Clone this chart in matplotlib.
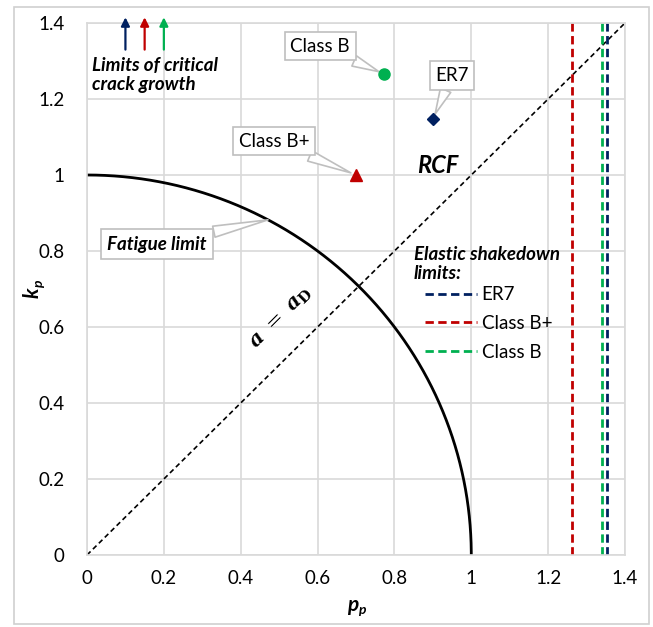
import numpy as np
import matplotlib
matplotlib.use("Agg")
import matplotlib.pyplot as plt
from matplotlib.patches import Rectangle
from matplotlib.lines import Line2D

plt.rcParams['font.family'] = ['Lato', 'DejaVu Sans']
plt.rcParams['mathtext.fontset'] = 'dejavuserif'

# Data
x_ticks = [0, 0.2, 0.4, 0.6, 0.8, 1, 1.2, 1.4]
y_ticks = [0, 0.2, 0.4, 0.6, 0.8, 1, 1.2, 1.4]
tick_labels = ["0", "0.2", "0.4", "0.6", "0.8", "1", "1.2", "1.4"]

materials = ["ER7", "Class B+", "Class B"]
colors = {"ER7": "#002060", "Class B+": "#c00000", "Class B": "#00b050"}
markers = {"ER7": "D", "Class B+": "^", "Class B": "o"}
marker_sizes = {"ER7": 6, "Class B+": 8, "Class B": 8}
point_pp = {"ER7": 0.90, "Class B+": 0.70, "Class B": 0.773}
point_kp = {"ER7": 1.147, "Class B+": 1.0, "Class B": 1.266}
shakedown_pp = {"ER7": 1.352, "Class B+": 1.261, "Class B": 1.340}
crack_arrow_x = {"ER7": 0.10, "Class B+": 0.15, "Class B": 0.20}
label_pos = {"ER7": (0.95, 1.262), "Class B+": (0.487, 1.089), "Class B": (0.607, 1.339)}

theta = np.linspace(0, np.pi / 2, 200)
fatigue_x = np.sin(theta)
fatigue_y = np.cos(theta)

FS = 13.5

fig = plt.figure(figsize=(6.53, 6.27), dpi=100)
ax = fig.add_axes([87 / 653, 1 - 555 / 627, (625 - 87) / 653, (555 - 23) / 627])

# Outer border
fig.patches.append(Rectangle((14 / 653, 1 - 624 / 627), (649 - 14) / 653, (624 - 7) / 627,
                             transform=fig.transFigure, fill=False, ec="#d0d0d0", lw=1.2))

ax.set_xlim(0, 1.4)
ax.set_ylim(0, 1.4)
ax.set_xticks(x_ticks)
ax.set_xticklabels(tick_labels)
ax.set_yticks(y_ticks)
ax.set_yticklabels(tick_labels)
ax.tick_params(length=0, labelsize=FS, pad=11, colors="#000000")
ax.tick_params(axis='y', pad=16)
ax.grid(True, color="#d9d9d9", lw=1.2)
ax.set_axisbelow(True)
for s in ax.spines.values():
    s.set_color("#d9d9d9")
    s.set_linewidth(1.2)

# Axis labels (k_p, p_p with subscripts)
fig.text(353 / 653, 1 - 605 / 627, "p", fontsize=15, fontweight='bold', style='italic', ha='center', va='center')
fig.text(362 / 653, 1 - 610 / 627, "p", fontsize=10, fontweight='bold', style='italic', ha='center', va='center')
fig.text(33 / 653, 1 - 293 / 627, "k", fontsize=15, fontweight='bold', style='italic', ha='center', va='center', rotation=90)
fig.text(39 / 653, 1 - 284 / 627, "p", fontsize=10, fontweight='bold', style='italic', ha='center', va='center', rotation=90)

# Diagonal a = a_D
ax.plot([0, 1.4], [0, 1.4], color="black", lw=1.2, ls=(0, (3, 2)))
ax.text(0.505, 0.625, r"$\boldsymbol{a}\ =\ \boldsymbol{a}_{\mathbf{D}}$", rotation=45, fontsize=15,
        ha='center', va='center', rotation_mode='anchor')

# Fatigue limit curve
ax.plot(fatigue_x, fatigue_y, color="black", lw=2)

# Shakedown limits
handles = []
for m in materials:
    ax.axvline(shakedown_pp[m], color=colors[m], lw=2, ls=(0, (3, 1.6)))
    handles.append(Line2D([], [], color=colors[m], lw=2, ls=(0, (3, 1.6))))

# Points
for m in materials:
    ax.plot(point_pp[m], point_kp[m], marker=markers[m], color=colors[m], ms=marker_sizes[m], ls='none',
            zorder=5)
    ax.annotate(m, xy=(point_pp[m], point_kp[m]), xytext=label_pos[m], fontsize=FS,
                ha='center', va='center',
                bbox=dict(boxstyle='square,pad=0.3', fc='white', ec='#bfbfbf', lw=1.2),
                arrowprops=dict(arrowstyle='wedge,tail_width=0.6,shrink_factor=0.5', fc='white', ec='#bfbfbf',
                                lw=1.2, shrinkA=0, shrinkB=4),
                zorder=4)

# Fatigue limit callout
ax.annotate("Fatigue limit", xy=(0.471, 0.882), xytext=(0.182, 0.818), fontsize=FS,
            fontweight='bold', style='italic', ha='center', va='center',
            bbox=dict(boxstyle='square,pad=0.35', fc='white', ec='#bfbfbf', lw=1.2),
            arrowprops=dict(arrowstyle='wedge,tail_width=0.6,shrink_factor=0.5', fc='white', ec='#bfbfbf',
                            lw=1.2, shrinkA=0, shrinkB=0),
            zorder=4)

# RCF
ax.text(0.913, 1.025, "RCF", fontsize=17, fontweight='bold', style='italic', ha='center', va='center')

# Critical crack growth arrows
for m in materials:
    ax.annotate("", xy=(crack_arrow_x[m], 1.415), xytext=(crack_arrow_x[m], 1.33),
                arrowprops=dict(arrowstyle='-|>,head_length=0.5,head_width=0.25', color=colors[m], lw=1.6,
                                shrinkA=0, shrinkB=0), annotation_clip=False)
ax.text(0.012, 1.262, "Limits of critical\ncrack growth", fontsize=FS, fontweight='bold', style='italic',
        ha='left', va='center', linespacing=1.15)

# Legend: title as text, entries indented
ax.text(0.850, 0.765, "Elastic shakedown\nlimits:", fontsize=FS, fontweight='bold', style='italic',
        ha='left', va='center', linespacing=1.15)
leg = ax.legend(handles, materials, loc='upper left', bbox_to_anchor=((428 - 87) / 538 - 0.005, 0.505),
                frameon=False, fontsize=FS, handlelength=2.75, handletextpad=0.25,
                labelspacing=0.62, borderaxespad=0, borderpad=0)
leg.set_zorder(6)

fig.savefig("out.png", dpi=100)
